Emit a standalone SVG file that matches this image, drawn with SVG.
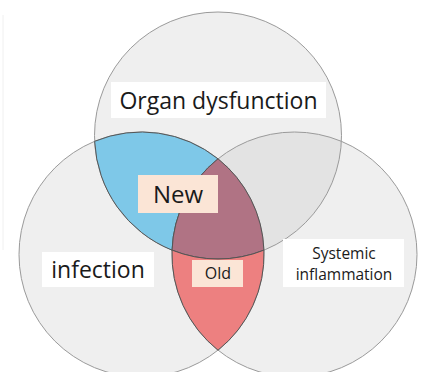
<svg xmlns="http://www.w3.org/2000/svg" width="425" height="372" viewBox="0 0 425 372">
<style>
.circ{fill:#efefef;stroke:none}
.ring{fill:none;stroke:#9a9a9a;stroke-width:1}
.lens{stroke:#555;stroke-width:1}
.wbox{fill:#ffffff}
.pbox{fill:#fbe5d6}
text{font-family:"Open Sans","Noto Sans","DejaVu Sans",sans-serif;fill:#1a1a1a;text-anchor:middle}
</style>
<rect width="425" height="372" fill="#ffffff"/>
<line x1="3" y1="15" x2="3" y2="250" stroke="#f0f0f0" stroke-width="1"/>
<g id="circle-top"><circle class="circ" cx="218" cy="135.5" r="123.5"/></g>
<g id="circle-left"><circle class="circ" cx="141.5" cy="254.5" r="122.5"/></g>
<g id="circle-right"><circle class="circ" cx="294.5" cy="254.5" r="122.5"/></g>
<g id="region-top-right">
<path fill="#e3e3e3" d="M341.37,141.31 A122.5,122.5 0 0 0 218,158.82 A122.5,122.5 0 0 1 263.93,250.15 A123.5,123.5 0 0 0 341.37,141.31 Z"/>
</g>
<g id="outlines">
<circle class="ring" cx="218" cy="135.5" r="123.5"/>
<circle class="ring" cx="141.5" cy="254.5" r="122.5"/>
<circle class="ring" cx="294.5" cy="254.5" r="122.5"/>
</g>
<g id="region-new">
<path class="lens" fill="#7ec8e8" d="M94.63,141.31 A122.5,122.5 0 0 1 218,158.82 A122.5,122.5 0 0 0 172.07,250.15 A123.5,123.5 0 0 1 94.63,141.31 Z"/>
</g>
<g id="region-center">
<path class="lens" fill="#b07384" d="M218,158.82 A122.5,122.5 0 0 1 263.93,250.15 A123.5,123.5 0 0 1 172.07,250.15 A122.5,122.5 0 0 1 218,158.82 Z"/>
</g>
<g id="region-old">
<path class="lens" fill="#ed8080" d="M172.07,250.15 A123.5,123.5 0 0 0 263.93,250.15 A122.5,122.5 0 0 1 218,350.18 A122.5,122.5 0 0 1 172.07,250.15 Z"/>
</g>
<g id="label-organ">
<rect class="wbox" x="111" y="82" width="215" height="36"/>
<text x="218.5" y="109" font-size="23">Organ dysfunction</text>
</g>
<g id="label-new">
<rect class="pbox" x="138" y="175" width="80" height="38"/>
<text x="178" y="203" font-size="24">New</text>
</g>
<g id="label-infection">
<rect class="wbox" x="42" y="252" width="112" height="35"/>
<text x="98" y="278" font-size="23">infection</text>
</g>
<g id="label-old">
<rect class="pbox" x="192" y="260" width="51" height="27"/>
<text x="218" y="279" font-size="16">Old</text>
</g>
<g id="label-systemic">
<rect class="wbox" x="283" y="239" width="121" height="48"/>
<text x="344" y="258.5" font-size="15.5">Systemic</text>
<text x="344" y="280" font-size="15.5">inflammation</text>
</g>
</svg>
